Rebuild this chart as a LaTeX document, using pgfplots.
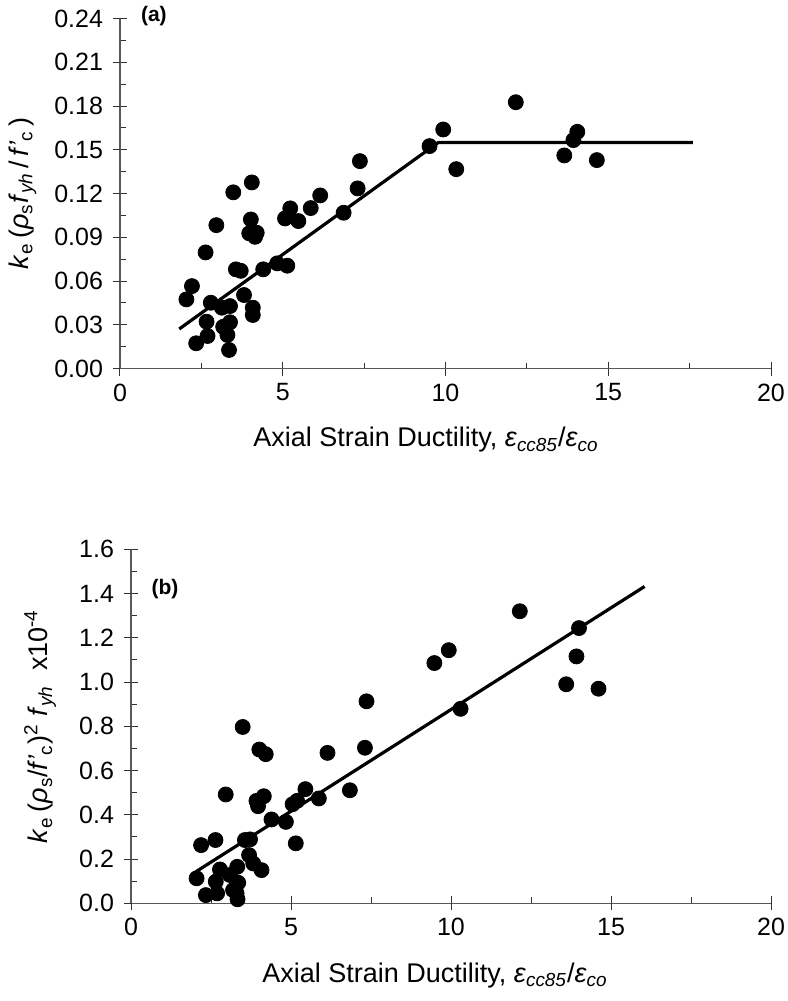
\documentclass[border=0pt]{standalone}
\usepackage{fontspec}
\setmainfont{Liberation Sans}
\usepackage{pgfplots}
\pgfplotsset{compat=1.18}

\pgfplotsset{
  ductaxis/.style={
    scale only axis,
    axis lines*=left,
    axis line style={black!65, line width=0.6pt, -},
    xmin=0, xmax=20,
    xtick={0,5,10,15,20}, minor x tick num=1,
    tick align=inside,
    major tick length=3.5pt, minor tick length=3pt,
    tick style={black!80, line width=0.5pt},
    extra x ticks={0,5,10,15,20}, extra x tick labels={,,,,},
    extra tick style={tick align=outside, major tick length=3.5pt},
    tick label style={font=\fontsize{12.5}{14}\selectfont},
    label style={font=\fontsize{13.5}{16}\selectfont},
    /pgf/number format/assume math mode=true,
    scaled ticks=false,
    yticklabel style={xshift=-5pt},
    xticklabel style={yshift=-4pt},
    clip=false,
  },
  dots/.style={only marks, mark=*, mark size=3.75pt, black, mark options={fill=black, draw=black}},
  fitline/.style={black, line width=1.6pt, no marks},
}

\begin{document}
\begin{tikzpicture}
\useasboundingbox (0,0) rectangle (393.5pt,-500.5pt);

% (a)
\begin{axis}[ductaxis,
  at={(60pt,-184.25pt)}, anchor=south west,
  width=325.5pt, height=175pt,
  ymin=0, ymax=0.24,
  ytick={0,0.03,0.06,0.09,0.12,0.15,0.18,0.21,0.24}, minor y tick num=1,
  extra y ticks={0,0.03,0.06,0.09,0.12,0.15,0.18,0.21,0.24},
  extra y tick labels={,,,,,,,,},
  yticklabel style={/pgf/number format/.cd, fixed, fixed zerofill, precision=2},
  xlabel={Axial Strain Ductility, \textit{ε}\textsubscript{\textit{cc85}}/\textit{ε}\textsubscript{\textit{co}}},
  xlabel style={at={(axis description cs:0.47,-0.204)}, anchor=center},
  ylabel={\textit{k}\textsubscript{e}\,(\textit{ρ}\textsubscript{s}\textit{f}\textsubscript{\textit{yh}}\,/\,\textit{f'}\textsubscript{c}\,)},
  ylabel style={at={(axis description cs:-0.15,0.5)}, anchor=center},
]
\addplot[dots] coordinates {
(2.04,0.0474) (2.21,0.0565) (2.34,0.0173) (2.63,0.0796) (2.69,0.0223)
(2.66,0.0321) (2.79,0.0451) (2.96,0.0983) (3.13,0.0417) (3.38,0.0428)
(3.17,0.0286) (3.38,0.0317) (3.30,0.0230) (3.35,0.0127) (3.48,0.1208)
(3.56,0.0680) (3.71,0.0670) (3.81,0.0504) (4.05,0.1276) (4.02,0.1022)
(3.97,0.0927) (4.20,0.0931) (4.15,0.0903) (4.08,0.0417) (4.08,0.0367)
(4.40,0.0680) (4.83,0.0721) (5.14,0.0705) (5.07,0.1029) (5.23,0.1098)
(5.48,0.1011) (5.86,0.1100) (6.15,0.1187) (6.87,0.1068) (7.30,0.1235)
(7.37,0.1422) (9.51,0.1525) (9.93,0.1639) (10.33,0.1367) (12.16,0.1826)
(14.05,0.1623) (13.93,0.1566) (13.65,0.1461) (14.65,0.1429)
};
\addplot[fitline] coordinates {(1.82,0.0271) (9.78,0.155) (17.6,0.155)};
\node[font=\bfseries\fontsize{10.5}{12}\selectfont] at (axis cs:1.04,0.2416) {(a)};
\end{axis}

% (b)
\begin{axis}[ductaxis,
  at={(65.5pt,-451.65pt)}, anchor=south west,
  width=320pt, height=177pt,
  ymin=0, ymax=1.6,
  ytick={0,0.2,0.4,0.6,0.8,1.0,1.2,1.4,1.6}, minor y tick num=1,
  extra y ticks={0,0.2,0.4,0.6,0.8,1.0,1.2,1.4,1.6},
  extra y tick labels={,,,,,,,,},
  yticklabel style={/pgf/number format/.cd, fixed, fixed zerofill, precision=1},
  xlabel={Axial Strain Ductility, \textit{ε}\textsubscript{\textit{cc85}}/\textit{ε}\textsubscript{\textit{co}}},
  xlabel style={at={(axis description cs:0.475,-0.203)}, anchor=center},
  ylabel={\textit{k}\textsubscript{e}\,(\textit{ρ}\textsubscript{s}/\textit{f'}\textsubscript{c})\textsuperscript{2} \textit{f}\textsubscript{\textit{yh}}\ \ x10\textsuperscript{-4}},
  ylabel style={at={(axis description cs:-0.142,0.5)}, anchor=center},
]
\addplot[dots] coordinates {
(2.05,0.113) (2.19,0.263) (2.64,0.286) (2.34,0.037) (2.69,0.045)
(2.65,0.098) (2.78,0.153) (2.96,0.492) (3.09,0.128) (3.32,0.165)
(3.35,0.093) (3.19,0.060) (3.30,0.045) (3.33,0.018) (3.49,0.797)
(3.56,0.286) (3.72,0.289) (3.69,0.218) (3.82,0.180) (4.08,0.150)
(4.01,0.695) (4.21,0.674) (3.92,0.463) (3.97,0.439) (4.15,0.484)
(4.39,0.379) (4.84,0.368) (5.05,0.448) (5.19,0.463) (5.15,0.271)
(5.45,0.516) (5.87,0.474) (6.14,0.680) (6.84,0.511) (7.31,0.703)
(7.36,0.913) (12.15,1.320) (14.00,1.244) (13.92,1.116) (13.60,0.990)
(14.61,0.970) (9.93,1.144) (9.48,1.086) (10.30,0.879)
};
\addplot[fitline] coordinates {(2.03,0.143) (16.05,1.432)};
\node[font=\bfseries\fontsize{10.5}{12}\selectfont] at (axis cs:1.06,1.42) {(b)};
\end{axis}
\end{tikzpicture}
\end{document}
